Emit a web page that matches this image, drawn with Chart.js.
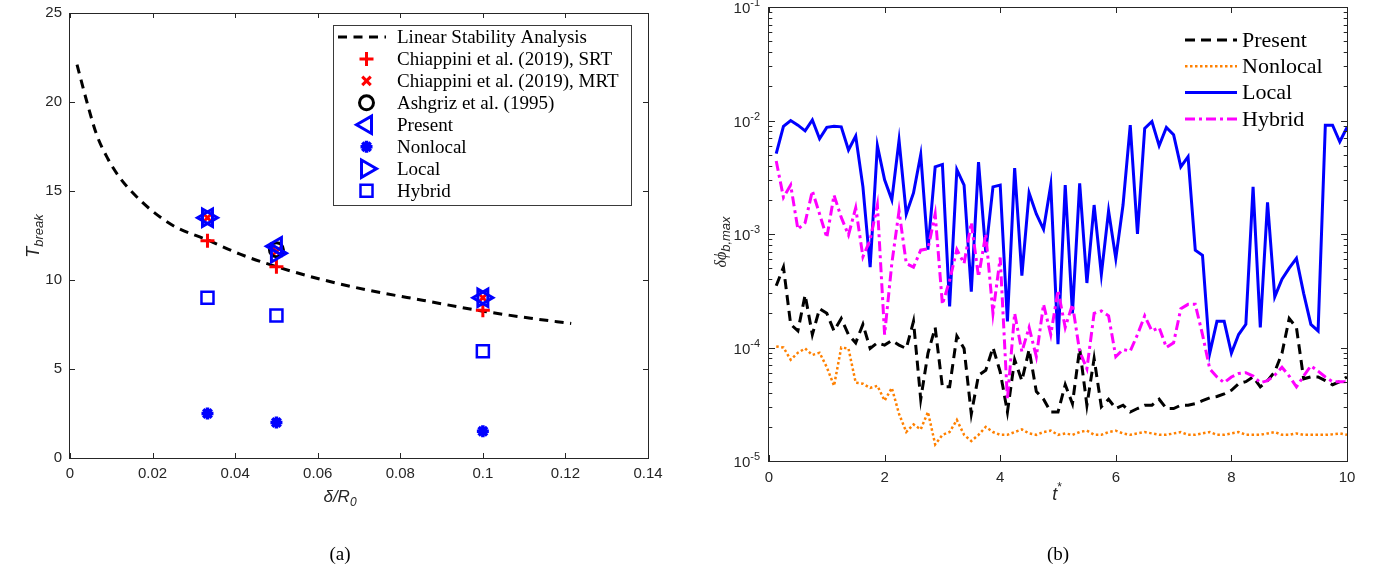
<!DOCTYPE html>
<html lang="en">
<head>
<meta charset="UTF-8">
<title>Breakup time and perturbation growth</title>
<script src="https://cdn.jsdelivr.net/npm/chart.js"></script>
<style>
  body { margin: 0; background: #ffffff; width: 1387px; height: 582px; overflow: hidden; position: relative; }
  .panel { position: absolute; top: 0; height: 582px; }
  #panelA { left: 0; width: 690px; }
  #panelB { left: 690px; width: 697px; }
</style>
</head>
<body>
<div class="panel" id="panelA"><canvas id="chartA" width="690" height="582"></canvas></div>
<div class="panel" id="panelB"><canvas id="chartB" width="697" height="582"></canvas></div>
<script>
// ---------- panel (a): T_break against delta/R0 ----------
const lsaDelta = [0.0017, 0.0041, 0.0064, 0.0092, 0.0119, 0.0152, 0.0198, 0.0254, 0.0333, 0.0412, 0.05, 0.0606, 0.0718, 0.0857, 0.1, 0.1116, 0.1214];
const lsaT     = [22.1, 20.0, 18.2, 16.8, 15.8, 14.9, 13.9, 13.0, 12.25, 11.45, 10.75, 10.05, 9.45, 8.85, 8.25, 7.85, 7.56];
const caseDelta = [0.0333, 0.05, 0.1];
const srtT      = [12.2, 10.75, 8.3];
const mrtT      = [13.5, 11.6, 9.0];
const ashgrizDelta = [0.05];
const ashgrizT     = [11.7];
const presentT  = [13.5, 11.9, 9.0];
const nonlocalT = [2.5, 2.0, 1.5];
const localT    = [13.5, 11.5, 9.0];
const hybridT   = [9.0, 8.0, 6.0];
const xTicksA = [0, 0.02, 0.04, 0.06, 0.08, 0.1, 0.12, 0.14];
const xTickLabelsA = ['0', '0.02', '0.04', '0.06', '0.08', '0.1', '0.12', '0.14'];
const yTicksA = [0, 5, 10, 15, 20, 25];
const yTickLabelsA = ['0', '5', '10', '15', '20', '25'];

// ---------- panel (b): max perturbation against t* ----------
const tStar = [0.125, 0.25, 0.375, 0.5, 0.625, 0.75, 0.875, 1.0, 1.125, 1.25,
  1.375, 1.5, 1.625, 1.75, 1.875, 2.0, 2.125, 2.25, 2.375, 2.5,
  2.625, 2.75, 2.875, 3.0, 3.125, 3.25, 3.375, 3.5, 3.625, 3.75,
  3.875, 4.0, 4.125, 4.25, 4.375, 4.5, 4.625, 4.75, 4.875, 5.0,
  5.125, 5.25, 5.375, 5.5, 5.625, 5.75, 5.875, 6.0, 6.125, 6.25,
  6.375, 6.5, 6.625, 6.75, 6.875, 7.0, 7.125, 7.25, 7.375, 7.5,
  7.625, 7.75, 7.875, 8.0, 8.125, 8.25, 8.375, 8.5, 8.625, 8.75,
  8.875, 9.0, 9.125, 9.25, 9.375, 9.5, 9.625, 9.75, 9.875, 10.0];
const presentVals = [3.5e-4, 5.1e-4, 1.6e-4, 1.4e-4, 2.9e-4, 1.3e-4, 2.2e-4, 2.0e-4, 1.4e-4, 1.8e-4,
  1.3e-4, 1.1e-4, 1.6e-4, 9.8e-5, 1.1e-4, 1.05e-4, 1.15e-4, 1.05e-4, 9.8e-5, 1.7e-4,
  3.5e-5, 8.9e-5, 1.5e-4, 4.5e-5, 4.5e-5, 1.26e-4, 9.8e-5, 2.6e-5, 5.7e-5, 6.3e-5,
  1.0e-4, 6.1e-5, 2.7e-5, 7.8e-5, 5.1e-5, 9.6e-5, 4.1e-5, 3.5e-5, 2.7e-5, 2.7e-5,
  4.7e-5, 3.2e-5, 9.8e-5, 3.1e-5, 8.0e-5, 3.0e-5, 3.5e-5, 2.9e-5, 3.1e-5, 2.7e-5,
  2.9e-5, 3.1e-5, 3.1e-5, 3.5e-5, 2.9e-5, 2.9e-5, 3.1e-5, 3.1e-5, 3.2e-5, 3.4e-5,
  3.6e-5, 3.7e-5, 3.9e-5, 4.2e-5, 4.8e-5, 5.0e-5, 5.5e-5, 4.5e-5, 5.1e-5, 6.1e-5,
  8.9e-5, 1.8e-4, 1.5e-4, 5.3e-5, 5.5e-5, 5.5e-5, 5.1e-5, 4.7e-5, 5.0e-5, 5.5e-5];
const nonlocalVals = [1.02e-4, 1.0e-4, 7.8e-5, 9.0e-5, 9.8e-5, 8.6e-5, 9.0e-5, 6.7e-5, 4.6e-5, 1.0e-4,
  9.8e-5, 4.9e-5, 4.8e-5, 4.4e-5, 4.6e-5, 3.4e-5, 4.4e-5, 2.6e-5, 1.8e-5, 2.1e-5,
  1.9e-5, 2.7e-5, 1.4e-5, 1.7e-5, 1.8e-5, 2.3e-5, 1.7e-5, 1.5e-5, 1.7e-5, 2.0e-5,
  1.8e-5, 1.7e-5, 1.7e-5, 1.8e-5, 1.9e-5, 1.75e-5, 1.7e-5, 1.8e-5, 1.85e-5, 1.7e-5,
  1.75e-5, 1.7e-5, 1.8e-5, 1.85e-5, 1.7e-5, 1.7e-5, 1.8e-5, 1.85e-5, 1.75e-5, 1.7e-5,
  1.75e-5, 1.8e-5, 1.75e-5, 1.7e-5, 1.7e-5, 1.75e-5, 1.8e-5, 1.7e-5, 1.7e-5, 1.75e-5,
  1.8e-5, 1.7e-5, 1.7e-5, 1.75e-5, 1.8e-5, 1.7e-5, 1.7e-5, 1.7e-5, 1.75e-5, 1.8e-5,
  1.7e-5, 1.7e-5, 1.75e-5, 1.7e-5, 1.7e-5, 1.7e-5, 1.7e-5, 1.72e-5, 1.75e-5, 1.7e-5];
const localVals = [5.1e-3, 8.9e-3, 1.0e-2, 9.1e-3, 8.1e-3, 1.01e-2, 6.9e-3, 8.7e-3, 8.9e-3, 8.8e-3,
  5.5e-3, 7.3e-3, 2.6e-3, 5.1e-4, 6.0e-3, 3.0e-3, 2.0e-3, 6.7e-3, 1.5e-3, 2.3e-3,
  5.0e-3, 7.3e-4, 3.9e-3, 4.1e-3, 2.3e-4, 3.7e-3, 2.7e-3, 3.1e-4, 4.3e-3, 6.9e-4,
  2.6e-3, 2.7e-3, 1.7e-4, 3.8e-3, 4.3e-4, 2.3e-3, 1.5e-3, 1.1e-3, 2.7e-3, 1.07e-4,
  2.7e-3, 2.0e-4, 2.8e-3, 3.7e-4, 1.8e-3, 4.4e-4, 1.6e-3, 6.1e-4, 1.8e-3, 9.1e-3,
  1.0e-3, 8.5e-3, 9.8e-3, 6.0e-3, 8.7e-3, 7.5e-3, 3.9e-3, 4.8e-3, 7.2e-4, 6.5e-4,
  8.9e-5, 1.7e-4, 1.7e-4, 8.9e-5, 1.3e-4, 1.6e-4, 2.6e-3, 1.5e-4, 1.9e-3, 2.8e-4,
  4.0e-4, 5.0e-4, 6.1e-4, 3.0e-4, 1.6e-4, 1.4e-4, 9.1e-3, 9.1e-3, 6.5e-3, 8.7e-3];
const hybridVals = [4.4e-3, 2.1e-3, 2.7e-3, 1.1e-3, 1.26e-3, 2.4e-3, 1.5e-3, 9.3e-4, 2.2e-3, 1.4e-3,
  9.8e-4, 1.7e-3, 6.3e-4, 8.9e-4, 1.8e-3, 1.3e-4, 5.5e-4, 1.6e-3, 5.5e-4, 5.1e-4,
  7.2e-4, 7.4e-4, 1.5e-3, 2.4e-4, 3.9e-4, 7.3e-4, 5.5e-4, 1.26e-3, 4.2e-4, 1.0e-3,
  2.0e-4, 6.2e-4, 3.5e-5, 2.0e-4, 9.2e-5, 1.5e-4, 8.3e-5, 2.4e-4, 1.3e-4, 3.2e-4,
  1.5e-4, 2.4e-4, 9.2e-5, 6.5e-5, 2.0e-4, 2.1e-4, 1.9e-4, 8.3e-5, 9.6e-5, 9.3e-5,
  1.3e-4, 1.9e-4, 1.4e-4, 1.5e-4, 1.0e-4, 1.1e-4, 2.2e-4, 2.4e-4, 2.4e-4, 1.3e-4,
  6.5e-5, 5.5e-5, 4.9e-5, 5.5e-5, 5.9e-5, 6.0e-5, 5.6e-5, 4.9e-5, 5.1e-5, 5.7e-5,
  6.7e-5, 5.6e-5, 4.5e-5, 5.6e-5, 6.9e-5, 6.2e-5, 5.5e-5, 5.0e-5, 5.0e-5, 5.0e-5];
const xTicksB = [0, 2, 4, 6, 8, 10];
const xTickLabelsB = ['0', '2', '4', '6', '8', '10'];
const yDecadesB = [1e-5, 1e-4, 1e-3, 1e-2, 1e-1];
const yExponentsB = ['-5', '-4', '-3', '-2', '-1'];

const AXIS = '#262626';
const SANS = '"Liberation Sans", Arial, sans-serif';
const SERIF = '"Liberation Serif", "Times New Roman", serif';

function pairs(xs, ys) { return xs.map((x, i) => ({ x: x, y: ys[i] })); }

// marker shapes, same geometry as Chart.js point styles (used for the legend)
function drawMarker(ctx, style, rotation, r, x, y) {
  let rad = (rotation || 0) * Math.PI / 180;
  ctx.beginPath();
  if (style === 'triangle') {
    for (let k = 0; k < 3; k++) {
      const px = x + Math.sin(rad) * r, py = y - Math.cos(rad) * r;
      if (k === 0) ctx.moveTo(px, py); else ctx.lineTo(px, py);
      rad += 2 * Math.PI / 3;
    }
    ctx.closePath();
  } else if (style === 'rect') {
    const s = Math.SQRT1_2 * r;
    ctx.rect(x - s, y - s, 2 * s, 2 * s);
  } else if (style === 'cross' || style === 'crossRot' || style === 'star') {
    const angles = style === 'cross' ? [0] : style === 'crossRot' ? [Math.PI / 4] : [0, Math.PI / 4];
    angles.forEach(a => {
      const dx = Math.cos(a) * r, dy = Math.sin(a) * r;
      ctx.moveTo(x - dx, y - dy); ctx.lineTo(x + dx, y + dy);
      ctx.moveTo(x - dy, y + dx); ctx.lineTo(x + dy, y - dx);
    });
  } else {
    ctx.arc(x, y, r, 0, Math.PI * 2);
    ctx.closePath();
  }
  ctx.stroke();
}

// italic text with a sub- or superscript part
function drawScripted(ctx, parts, cx, cy, rotate) {
  ctx.save();
  ctx.translate(cx, cy);
  if (rotate) ctx.rotate(-Math.PI / 2);
  let total = 0;
  parts.forEach(p => { ctx.font = p.font; total += ctx.measureText(p.text).width; });
  let x = -total / 2;
  ctx.fillStyle = AXIS;
  ctx.textBaseline = 'alphabetic';
  ctx.textAlign = 'left';
  parts.forEach(p => {
    ctx.font = p.font;
    ctx.fillText(p.text, x, p.dy);
    x += ctx.measureText(p.text).width;
  });
  ctx.restore();
}

function drawBoxAndTicks(chart, xTicks, yTicks, yMinor, len) {
  const { ctx, chartArea: a, scales } = chart;
  ctx.save();
  ctx.strokeStyle = AXIS;
  ctx.lineWidth = 1;
  ctx.strokeRect(a.left - 0.5, a.top + 0.5, a.right - a.left + 1, a.bottom - a.top);
  ctx.beginPath();
  xTicks.forEach(v => {
    const px = Math.round(scales.x.getPixelForValue(v)) + 0.5;
    ctx.moveTo(px, a.bottom); ctx.lineTo(px, a.bottom - len);
    ctx.moveTo(px, a.top); ctx.lineTo(px, a.top + len);
  });
  yTicks.forEach(v => {
    const py = Math.round(scales.y.getPixelForValue(v)) + 0.5;
    ctx.moveTo(a.left, py); ctx.lineTo(a.left + len, py);
    ctx.moveTo(a.right, py); ctx.lineTo(a.right - len, py);
  });
  yMinor.forEach(v => {
    const py = Math.round(scales.y.getPixelForValue(v)) + 0.5;
    ctx.moveTo(a.left, py); ctx.lineTo(a.left + len * 0.55, py);
    ctx.moveTo(a.right, py); ctx.lineTo(a.right - len * 0.55, py);
  });
  ctx.stroke();
  ctx.restore();
}

const decorA = {
  id: 'decorA',
  afterDraw(chart) {
    const { ctx, chartArea: a, scales } = chart;
    drawBoxAndTicks(chart, xTicksA, yTicksA, [], 5);
    ctx.save();
    ctx.fillStyle = AXIS;
    ctx.font = '15px ' + SANS;
    ctx.textAlign = 'center'; ctx.textBaseline = 'top';
    xTicksA.forEach((v, i) => ctx.fillText(xTickLabelsA[i], scales.x.getPixelForValue(v), a.bottom + 8));
    ctx.textAlign = 'right'; ctx.textBaseline = 'middle';
    yTicksA.forEach((v, i) => ctx.fillText(yTickLabelsA[i], a.left - 8, scales.y.getPixelForValue(v)));
    ctx.restore();

    drawScripted(ctx, [
      { text: 'T', font: 'italic 18px ' + SANS, dy: 6 },
      { text: 'break', font: 'italic 13px ' + SANS, dy: 10 }
    ], 33, 236, true);
    drawScripted(ctx, [
      { text: '\u03B4/R', font: 'italic 17px ' + SANS, dy: 5 },
      { text: '0', font: 'italic 12px ' + SANS, dy: 9 }
    ], 340, 497, false);

    ctx.save();
    ctx.fillStyle = '#000';
    ctx.font = '19px ' + SERIF;
    ctx.textAlign = 'center'; ctx.textBaseline = 'middle';
    ctx.fillText('(a)', 340, 555);
    ctx.restore();

    // legend box
    ctx.save();
    ctx.fillStyle = '#ffffff';
    ctx.fillRect(333, 25, 298, 180);
    ctx.strokeStyle = '#3a3a3a';
    ctx.lineWidth = 1;
    ctx.strokeRect(333.5, 25.5, 298, 180);
    const rows = chart.data.datasets.slice().sort((p, q) => p.legendIndex - q.legendIndex);
    rows.forEach((ds, i) => {
      const y = 37 + i * 21.95;
      ctx.strokeStyle = ds.borderColor;
      if (ds.showLine) {
        ctx.lineWidth = ds.borderWidth;
        ctx.setLineDash(ds.borderDash);
        ctx.beginPath(); ctx.moveTo(338, y); ctx.lineTo(386, y); ctx.stroke();
        ctx.setLineDash([]);
      } else {
        ctx.lineWidth = ds.pointBorderWidth;
        drawMarker(ctx, ds.pointStyle, ds.pointRotation, ds.pointRadius, 366.5, y);
      }
      ctx.fillStyle = '#000';
      ctx.font = '19px ' + SERIF;
      ctx.textAlign = 'left'; ctx.textBaseline = 'middle';
      ctx.fillText(ds.label, 397, y + 1);
    });
    ctx.restore();
  }
};

function markerSet(label, legendIndex, xs, ys, color, style, radius, width, rotation) {
  return {
    label: label, legendIndex: legendIndex, order: 20 - legendIndex,
    data: pairs(xs, ys), showLine: false,
    borderColor: color, pointBorderColor: color, pointBackgroundColor: 'rgba(0,0,0,0)',
    pointStyle: style, pointRadius: radius, pointBorderWidth: width, pointRotation: rotation || 0
  };
}

new Chart(document.getElementById('chartA'), {
  type: 'scatter',
  data: {
    datasets: [
      {
        label: 'Linear Stability Analysis', legendIndex: 0, order: 20,
        data: pairs(lsaDelta, lsaT), showLine: true,
        borderColor: '#000000', borderWidth: 3, borderDash: [9, 6.5],
        cubicInterpolationMode: 'monotone', pointRadius: 0
      },
      markerSet('Chiappini et al. (2019), SRT', 1, caseDelta, srtT, '#ff0000', 'cross', 7, 3),
      markerSet('Chiappini et al. (2019), MRT', 2, caseDelta, mrtT, '#ff0000', 'crossRot', 6, 3),
      markerSet('Ashgriz et al. (1995)', 3, ashgrizDelta, ashgrizT, '#000000', 'circle', 7, 3),
      markerSet('Present', 4, caseDelta, presentT, '#0000ff', 'triangle', 10, 3, -90),
      markerSet('Nonlocal', 5, caseDelta, nonlocalT, '#0000ff', 'star', 6, 3.5),
      markerSet('Local', 6, caseDelta, localT, '#0000ff', 'triangle', 10, 3, 90),
      markerSet('Hybrid', 7, caseDelta, hybridT, '#0000ff', 'rect', 8.5, 2.5)
    ]
  },
  options: {
    responsive: false,
    animation: false,
    events: [],
    layout: { padding: { left: 70, top: 7, right: 42, bottom: 124 } },
    plugins: { legend: { display: false }, tooltip: { enabled: false } },
    scales: {
      x: { type: 'linear', display: false, min: 0, max: 0.14 },
      y: { type: 'linear', display: false, min: 0, max: 25 }
    }
  },
  plugins: [decorA]
});

// ---------- panel (b) ----------
const minorB = [];
yDecadesB.slice(0, -1).forEach(d => { for (let m = 2; m <= 9; m++) minorB.push(d * m); });

const decorB = {
  id: 'decorB',
  afterDraw(chart) {
    const { ctx, chartArea: a, scales } = chart;
    drawBoxAndTicks(chart, xTicksB, yDecadesB, minorB, 6);
    ctx.save();
    ctx.fillStyle = AXIS;
    ctx.font = '15px ' + SANS;
    ctx.textAlign = 'center'; ctx.textBaseline = 'top';
    xTicksB.forEach((v, i) => ctx.fillText(xTickLabelsB[i], scales.x.getPixelForValue(v), a.bottom + 9));
    yDecadesB.forEach((v, i) => {
      const py = scales.y.getPixelForValue(v);
      ctx.font = '11px ' + SANS;
      const sw = ctx.measureText(yExponentsB[i]).width;
      ctx.textAlign = 'left'; ctx.textBaseline = 'alphabetic';
      ctx.fillText(yExponentsB[i], a.left - 9 - sw, py - 1);
      ctx.font = '15px ' + SANS;
      ctx.textAlign = 'right';
      ctx.fillText('10', a.left - 9 - sw, py + 6);
    });
    ctx.restore();

    drawScripted(ctx, [
      { text: 't', font: 'italic 18px ' + SANS, dy: 6 },
      { text: '*', font: '12px ' + SANS, dy: -3 }
    ], 367, 494, false);
    drawScripted(ctx, [
      { text: '\u03B4\u03D5', font: 'italic 16px ' + SERIF, dy: 5 },
      { text: 'b,max', font: 'italic 13px ' + SANS, dy: 9 }
    ], 31, 242, true);

    ctx.save();
    ctx.fillStyle = '#000';
    ctx.font = '19px ' + SERIF;
    ctx.textAlign = 'center'; ctx.textBaseline = 'middle';
    ctx.fillText('(b)', 368, 555);

    const rows = chart.data.datasets.slice().sort((p, q) => p.legendIndex - q.legendIndex);
    rows.forEach((ds, i) => {
      const y = 40 + i * 26.3;
      ctx.strokeStyle = ds.borderColor;
      ctx.lineWidth = ds.borderWidth;
      ctx.setLineDash(ds.borderDash || []);
      ctx.beginPath(); ctx.moveTo(495, y); ctx.lineTo(547, y); ctx.stroke();
      ctx.setLineDash([]);
      ctx.fillStyle = '#000';
      ctx.font = '22px ' + SERIF;
      ctx.textAlign = 'left'; ctx.textBaseline = 'middle';
      ctx.fillText(ds.label, 552, y + 1);
    });
    ctx.restore();
  }
};

function seriesSet(label, legendIndex, vals, color, width, dash) {
  return {
    label: label, legendIndex: legendIndex, order: 10 - legendIndex,
    data: pairs(tStar, vals), borderColor: color, borderWidth: width, borderDash: dash,
    pointRadius: 0, fill: false, tension: 0
  };
}

new Chart(document.getElementById('chartB'), {
  type: 'line',
  data: {
    datasets: [
      seriesSet('Present', 0, presentVals, '#000000', 3, [10, 6]),
      seriesSet('Nonlocal', 1, nonlocalVals, '#ff8000', 2.5, [2.5, 2.5]),
      seriesSet('Local', 2, localVals, '#0000ff', 3, []),
      seriesSet('Hybrid', 3, hybridVals, '#ff00ff', 3, [10, 4, 3, 4])
    ]
  },
  options: {
    responsive: false,
    animation: false,
    events: [],
    layout: { padding: { left: 79, top: 7, right: 40, bottom: 121 } },
    plugins: { legend: { display: false }, tooltip: { enabled: false } },
    scales: {
      x: { type: 'linear', display: false, min: 0, max: 10 },
      y: { type: 'logarithmic', display: false, min: 1e-5, max: 1e-1 }
    }
  },
  plugins: [decorB]
});
</script>
</body>
</html>
